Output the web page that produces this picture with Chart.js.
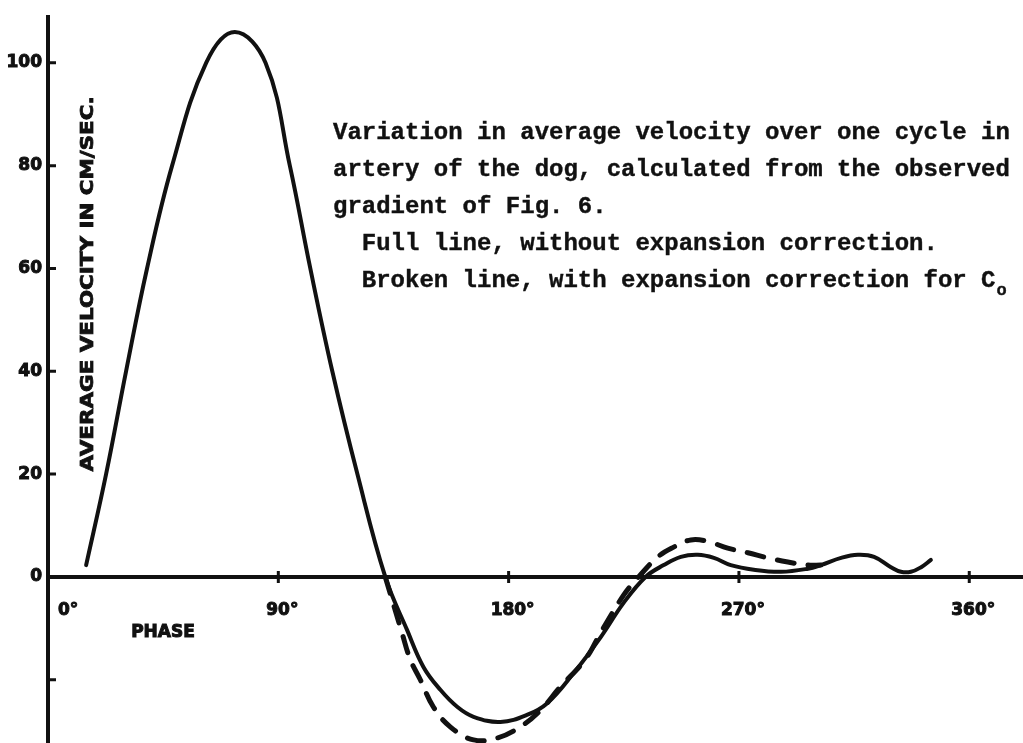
<!DOCTYPE html>
<html>
<head>
<meta charset="utf-8">
<script src="https://cdn.jsdelivr.net/npm/chart.js@4.4.1/dist/chart.umd.min.js"></script>
<style>
  html, body { margin: 0; padding: 0; background: #fff; }
  #wrap { width: 1023px; height: 743px; }
</style>
</head>
<body>
<div id="wrap"><canvas id="velocityChart" width="1023" height="743"></canvas></div>
<script>
// Full line: no expansion correction (phase in degrees, velocity in cm/sec)
const fullPhase = [14.9, 22.7, 30.5, 38.7, 48.5, 61.8, 73, 85, 94.5, 102.5, 111.1, 120.9, 131.8,
  140.3, 146.7, 153.4, 160, 166.3, 176.8, 187.4, 195.2, 205.4, 216, 225, 233.5,
  240.6, 247.3, 253.9, 260.2, 266.8, 275.8, 286.4, 297, 302, 309.9, 316.5, 322.8, 329.4, 333.3, 337.2, 341.2, 345];
const fullVelocity = [2.3, 20, 40, 60, 80, 100, 106, 100, 80, 60, 40, 20, 0,
  -10.3, -17.5, -22, -25.3, -27.2, -28.2, -26.8, -24.5, -18.7, -11.7, -5, 0,
  2.3, 3.9, 4.3, 3.7, 2.3, 1.4, 1.0, 1.6, 2.3, 3.7, 4.3, 3.9, 1.9, 1.0, 1.0, 1.9, 3.3];

// Broken line: with expansion correction for Co
const brokenPhase = [131.8, 138.4, 141.6, 145.5, 150.6, 157.3, 166.3, 175.7, 184.7, 192.5, 200, 210, 216, 225, 230.8,
  238.3, 244.5, 251.2, 257.8, 265.6, 273.5, 281.3, 289.1, 297, 302];
const brokenVelocity = [0, -11, -16.1, -20, -25.3, -29.2, -31.7, -31.3, -29.1, -25.9, -21.5, -16, -10.8, -3.5, 0,
  3.9, 5.8, 7.2, 6.9, 5.6, 4.7, 3.7, 2.9, 2.3, 2.3];

const yTickValues = [100, 80, 60, 40, 20, 0, -20];
const yTickLabels = ['100', '80', '60', '40', '20', '0', ''];
const xTickValues = [0, 90, 180, 270, 360];
const xTickLabels = ['0°', '90°', '180°', '270°', '360°'];

const yTitle = 'AVERAGE VELOCITY IN CM/SEC.';
const xTitle = 'PHASE';
const noteLines = [
  'Variation in average velocity over one cycle in',
  'artery of the dog, calculated from the observed',
  'gradient of Fig. 6.',
  '  Full line, without expansion correction.',
  '  Broken line, with expansion correction for C'
];
const noteSubscript = 'o';

const INK = '#111';
const LABEL_FONT = 'bold 17px "DejaVu Sans", sans-serif';
const NOTE_FONT = 'bold 24px "Liberation Mono", "DejaVu Sans Mono", monospace';

// typewritten text comes out heavy, so ink it twice
function heavyText(ctx, s, x, y, w) {
  ctx.fillText(s, x, y);
  ctx.lineWidth = w;
  ctx.strokeText(s, x, y);
}

// axes, tick marks, labels and the caption block
const paperAxes = {
  id: 'paperAxes',
  beforeDatasetsDraw(chart) {
    const { ctx, chartArea: a, scales: { x, y } } = chart;
    const x0 = x.getPixelForValue(0);
    const y0 = y.getPixelForValue(0);

    ctx.save();
    ctx.strokeStyle = INK;
    ctx.lineWidth = 4;
    ctx.beginPath();
    ctx.moveTo(x0, a.top);
    ctx.lineTo(x0, a.bottom);
    ctx.moveTo(x0, y0);
    ctx.lineTo(a.right, y0);
    ctx.stroke();

    // small ticks pointing into the plot on the velocity axis
    ctx.lineWidth = 3;
    ctx.beginPath();
    yTickValues.forEach(v => {
      if (v === 0) return;
      const py = y.getPixelForValue(v);
      ctx.moveTo(x0, py);
      ctx.lineTo(x0 + 8, py);
    });
    // phase ticks straddle the zero line
    xTickValues.forEach(v => {
      if (v === 0) return;
      const px = x.getPixelForValue(v);
      ctx.moveTo(px, y0 - 6);
      ctx.lineTo(px, y0 + 6);
    });
    ctx.stroke();

    ctx.fillStyle = INK;
    ctx.font = LABEL_FONT;
    ctx.textAlign = 'right';
    ctx.textBaseline = 'middle';
    yTickValues.forEach((v, i) => {
      heavyText(ctx, yTickLabels[i], x0 - 6, y.getPixelForValue(v), 1);
    });

    ctx.textBaseline = 'alphabetic';
    xTickValues.forEach((v, i) => {
      const px = x.getPixelForValue(v);
      if (v === 0) {
        ctx.textAlign = 'left';
        heavyText(ctx, xTickLabels[i], px + 10, y0 + 38, 1);
      } else {
        ctx.textAlign = 'center';
        heavyText(ctx, xTickLabels[i], px + 4, y0 + 38, 1);
      }
    });

    ctx.textAlign = 'center';
    heavyText(ctx, xTitle, x0 + 115, y0 + 60, 1);

    // rotated axis title, stretched to its printed length
    ctx.save();
    ctx.font = 'bold 18px "DejaVu Sans", sans-serif';
    const tw = ctx.measureText(yTitle).width;
    ctx.translate(x0 + 40, y.getPixelForValue(57));
    ctx.rotate(-Math.PI / 2);
    ctx.scale(375 / tw, 1);
    ctx.textAlign = 'center';
    ctx.textBaseline = 'middle';
    heavyText(ctx, yTitle, 0, 0, 0.8);
    ctx.restore();

    // caption
    ctx.font = NOTE_FONT;
    ctx.textAlign = 'left';
    const left = 333, top = 139, lead = 37;
    noteLines.forEach((line, i) => heavyText(ctx, line, left, top + i * lead, 0.4));
    const last = noteLines[noteLines.length - 1];
    const endX = left + ctx.measureText(last).width;
    ctx.font = 'bold 17px "Liberation Mono", "DejaVu Sans Mono", monospace';
    heavyText(ctx, noteSubscript, endX + 1, top + (noteLines.length - 1) * lead + 8, 0.4);

    ctx.restore();
  }
};

const toPoints = (xs, ys) => xs.map((p, i) => ({ x: p, y: ys[i] }));

new Chart(document.getElementById('velocityChart'), {
  type: 'line',
  data: {
    datasets: [
      {
        label: 'Full line, without expansion correction',
        data: toPoints(fullPhase, fullVelocity),
        borderColor: INK,
        borderWidth: 4,
        borderCapStyle: 'round',
        borderJoinStyle: 'round',
        pointRadius: 0,
        fill: false,
        tension: 0.4
      },
      {
        label: 'Broken line, with expansion correction for Co',
        data: toPoints(brokenPhase, brokenVelocity),
        borderColor: INK,
        borderWidth: 5,
        borderDash: [17, 14],
        borderCapStyle: 'round',
        pointRadius: 0,
        fill: false,
        tension: 0.4
      }
    ]
  },
  options: {
    responsive: false,
    animation: false,
    devicePixelRatio: 1,
    layout: { padding: { left: 48, top: 15, right: 0, bottom: 0 } },
    plugins: {
      legend: { display: false },
      tooltip: { enabled: false }
    },
    scales: {
      x: { type: 'linear', min: 0, max: 381, display: false },
      y: { type: 'linear', min: -32.3, max: 109.3, display: false }
    }
  },
  plugins: [paperAxes]
});
</script>
</body>
</html>
